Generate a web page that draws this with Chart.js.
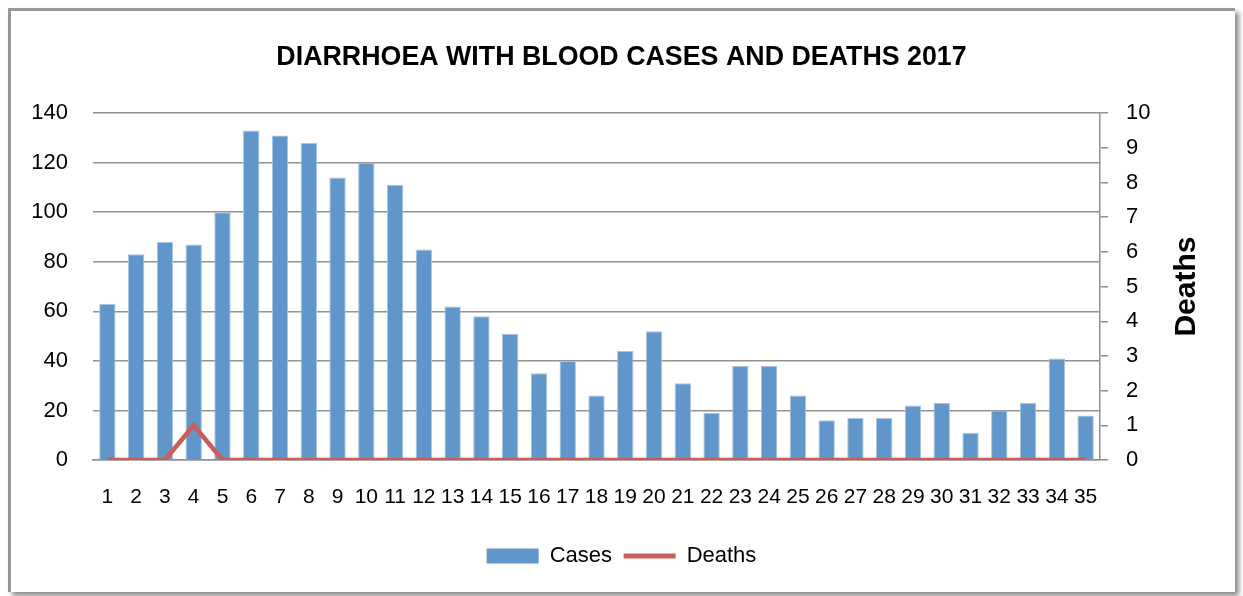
<!DOCTYPE html>
<html>
<head>
<meta charset="utf-8">
<script src="https://cdn.jsdelivr.net/npm/chart.js@4/dist/chart.umd.min.js"></script>
<style>
    body { margin: 0; background: #fff; }
    #frame {
        position: absolute; left: 8px; top: 8px; width: 1224px; height: 581px;
        border-top: 3px solid #969696; border-left: 3px solid #969696;
        box-shadow: 4px 4px 5px rgba(0, 0, 0, 0.45);
        background: #fff;
    }
    #myChart { position: absolute; left: 0; top: 0; }
</style>
</head>
<body>
<div id="frame"></div>
<canvas id="myChart" width="1243" height="596"></canvas>
<script>
const weeks = ['1', '2', '3', '4', '5', '6', '7', '8', '9', '10', '11', '12', '13', '14', '15', '16', '17', '18',
    '19', '20', '21', '22', '23', '24', '25', '26', '27', '28', '29', '30', '31', '32', '33', '34', '35'];
const cases = [63, 83, 88, 87, 100, 133, 131, 128, 114, 120, 111, 85, 62, 58, 51, 35, 40, 26,
    44, 52, 31, 19, 38, 38, 26, 16, 17, 17, 22, 23, 11, 20, 23, 41, 18];
const deaths = [0, 0, 0, 1, 0, 0, 0, 0, 0, 0, 0, 0, 0, 0, 0, 0, 0, 0,
    0, 0, 0, 0, 0, 0, 0, 0, 0, 0, 0, 0, 0, 0, 0, 0, 0];
const casesTicks = [0, 20, 40, 60, 80, 100, 120, 140];
const deathsTicks = [0, 1, 2, 3, 4, 5, 6, 7, 8, 9, 10];

const FONT = "'Liberation Sans', Arial, sans-serif";

// rotated "Deaths" title on the right, reads bottom to top like the original
const deathsTitle = {
    id: 'deathsTitle',
    afterDraw(chart) {
        const ctx = chart.ctx;
        const area = chart.chartArea;
        ctx.save();
        ctx.translate(1187, (area.top + area.bottom) / 2);
        ctx.rotate(-Math.PI / 2);
        ctx.font = 'bold 30px ' + FONT;
        ctx.fillStyle = '#000';
        ctx.textAlign = 'center';
        ctx.textBaseline = 'middle';
        ctx.fillText('Deaths', 0, 0);
        ctx.restore();
    }
};

const ctx = document.getElementById('myChart').getContext('2d');
new Chart(ctx, {
    data: {
        labels: weeks,
        datasets: [{
            type: 'line',
            label: 'Deaths',
            data: deaths,
            yAxisID: 'y1',
            borderColor: '#CB5C58',
            backgroundColor: '#CB5C58',
            borderWidth: 4.5,
            pointRadius: 0,
            tension: 0,
            order: 1
        }, {
            type: 'bar',
            label: 'Cases',
            data: cases,
            yAxisID: 'y',
            backgroundColor: '#6096CA',
            borderColor: '#A9C4E3',
            borderWidth: 1,
            categoryPercentage: 1,
            barPercentage: 0.57,
            order: 2
        }]
    },
    options: {
        responsive: false,
        animation: false,
        layout: { padding: { left: 0, right: 0, top: 0, bottom: 19 } },
        plugins: {
            title: {
                display: true,
                text: 'DIARRHOEA WITH BLOOD CASES AND DEATHS 2017',
                color: '#000',
                font: { family: FONT, size: 26.8, weight: 'bold' },
                padding: { top: 42, bottom: 39 }
            },
            legend: {
                position: 'bottom',
                reverse: true,
                labels: {
                    color: '#000',
                    font: { family: FONT, size: 22 },
                    usePointStyle: true,
                    pointStyleWidth: 52,
                    boxHeight: 15,
                    padding: 11.6,
                    generateLabels(chart) {
                        return chart.data.datasets.map((ds, i) => ({
                            text: ds.label,
                            fillStyle: ds.backgroundColor,
                            strokeStyle: ds.type === 'bar' ? ds.backgroundColor : ds.borderColor,
                            lineWidth: ds.type === 'bar' ? 0 : 5,
                            pointStyle: ds.type === 'bar' ? 'rect' : 'line',
                            datasetIndex: i,
                            hidden: false,
                            fontColor: '#000'
                        }));
                    }
                }
            },
            tooltip: { enabled: false }
        },
        scales: {
            x: {
                afterFit(scale) { scale.height = 73.4; },
                grid: { display: false },
                border: { display: true, color: '#909090', width: 1.5 },
                ticks: {
                    color: '#000',
                    font: { family: FONT, size: 21 },
                    autoSkip: false,
                    maxRotation: 0,
                    padding: 17
                }
            },
            y: {
                position: 'left',
                min: 0,
                max: 140,
                afterBuildTicks(scale) {
                    scale.ticks = casesTicks.map(v => ({ value: v }));
                },
                afterFit(scale) { scale.width = 93; },
                grid: { color: '#929292', lineWidth: 1.6, drawTicks: false },
                border: { display: false },
                ticks: {
                    color: '#000',
                    font: { family: FONT, size: 22 },
                    padding: 25
                }
            },
            y1: {
                position: 'right',
                min: 0,
                max: 10,
                afterBuildTicks(scale) {
                    scale.ticks = deathsTicks.map(v => ({ value: v }));
                },
                afterFit(scale) { scale.width = 1243 - 1100; },
                grid: { drawOnChartArea: false, color: '#909090', lineWidth: 1.5, tickLength: 8 },
                border: { display: true, color: '#909090', width: 1.5 },
                ticks: {
                    color: '#000',
                    font: { family: FONT, size: 22 },
                    padding: 18
                }
            }
        }
    },
    plugins: [deathsTitle]
});
</script>
</body>
</html>
